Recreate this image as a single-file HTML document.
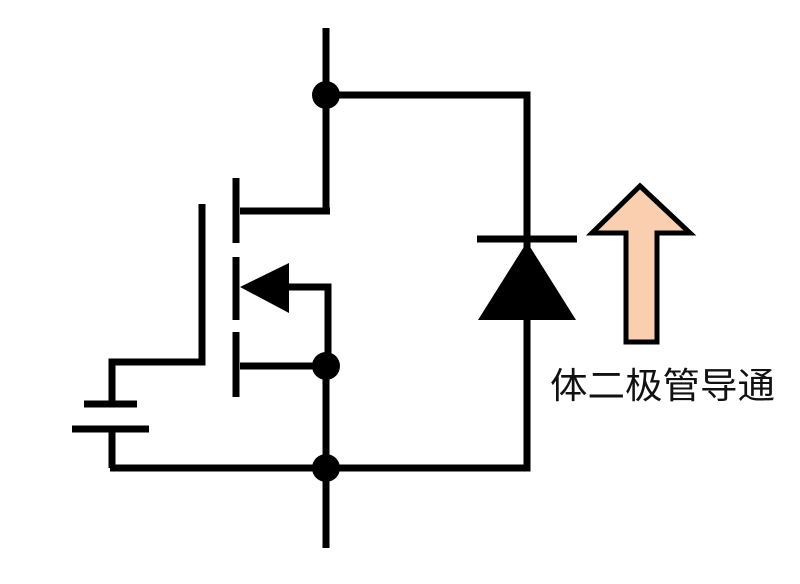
<!DOCTYPE html>
<html><head><meta charset="utf-8"><style>body{margin:0;background:#fff}svg{display:block}</style></head><body>
<svg width="800" height="584" viewBox="0 0 800 584" xmlns="http://www.w3.org/2000/svg">
<g stroke="#000" stroke-width="7" fill="none" stroke-linecap="butt">
<line x1="326" y1="28" x2="326" y2="214"/>
<line x1="326" y1="366" x2="326" y2="548"/>
<polyline points="326,95 527,95 527,468 110,468"/>
<line x1="236" y1="178" x2="236" y2="243"/>
<line x1="236" y1="257" x2="236" y2="320"/>
<line x1="236" y1="332" x2="236" y2="397"/>
<line x1="240" y1="211" x2="330" y2="211"/>
<line x1="240" y1="366" x2="326" y2="366"/>
<polyline points="285,287 328,287 328,366"/>
<polyline points="202,204 202,362 112,362 112,404"/>
<line x1="84" y1="404" x2="137" y2="404"/>
<line x1="72" y1="429" x2="149" y2="429"/>
<line x1="112" y1="429" x2="112" y2="468"/>
<line x1="477" y1="239" x2="577" y2="239"/>
</g>
<polygon points="240,287 289,263 289,313" fill="#000"/>
<polygon points="527,242 478,320 576,320" fill="#000"/>
<circle cx="326" cy="95" r="14" fill="#000"/>
<circle cx="326" cy="366" r="14" fill="#000"/>
<circle cx="326" cy="468" r="14" fill="#000"/>
<polygon points="640,186 690,233 657,233 657,342 626,342 626,233 592,233" fill="#f9cfb0" stroke="#000" stroke-width="5" stroke-linejoin="miter"/>
<text x="550" y="398" font-family="'Liberation Sans','Noto Sans CJK SC',sans-serif" font-size="36" textLength="225" lengthAdjust="spacingAndGlyphs" fill="#111">体二极管导通</text>
</svg>
</body></html>
